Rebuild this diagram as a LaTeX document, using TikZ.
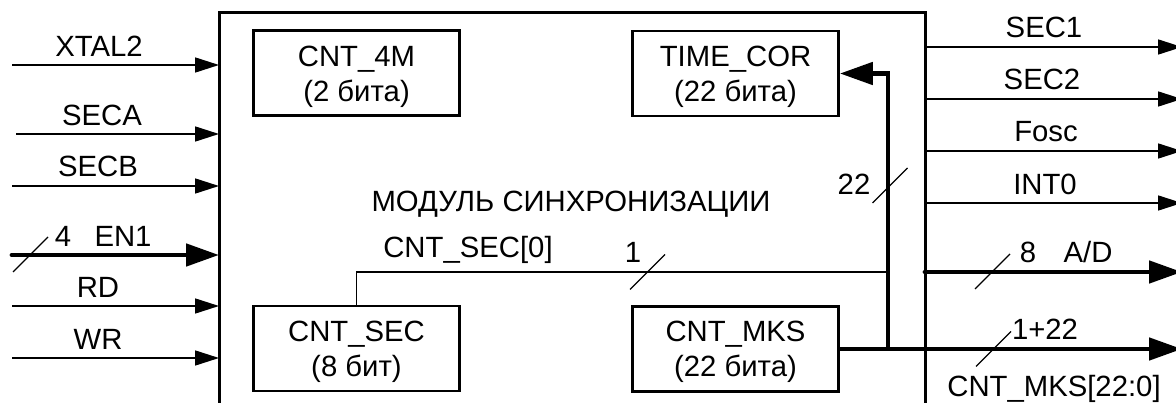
\documentclass[tikz,border=0pt]{standalone}
\usepackage{fontspec}
\setmainfont{Liberation Sans}
\usetikzlibrary{arrows.meta}

\begin{document}
\begin{tikzpicture}[x=1pt,y=-1pt,
  every node/.style={font=\fontsize{29.3}{35}\selectfont, inner sep=0pt},
  sig/.style={line width=1.6pt, -{Triangle[length=24pt,width=15pt]}},
  bus/.style={line width=4.8pt, -{Triangle[length=33pt,width=22pt]}},
  unit/.style={draw, line width=2.7pt, minimum width=206pt, minimum height=85pt,
    align=center, text depth=0pt},
  frame/.style={line width=3pt},
  wire/.style={line width=1.4pt},
  tick/.style={line width=1.1pt},
  lbl/.style={anchor=base},
]
\useasboundingbox (0,0) rectangle (1176,403);

% synchronisation module: open at the bottom
\node[minimum width=706pt, minimum height=400pt, outer sep=0pt, anchor=north west] (mod) at (219,13) {};
\draw[frame] (mod.south west) -- (mod.north west) -- (mod.north east) -- (mod.south east);

% internal units
\node[unit] (c4m) at (356.5,73.3) {CNT\_4M\\(2 бита)};
\node[unit] (tc)  at (735.5,73.5) {TIME\_COR\\(22 бита)};
\node[unit] (sec) at (356.5,348.5) {CNT\_SEC\\(8 бит)};
\node[unit] (mks) at (735.5,349) {CNT\_MKS\\(22 бита)};

\node[lbl] (title) at (571,212) {МОДУЛЬ СИНХРОНИЗАЦИИ};

% inputs
\coordinate (iXT) at (12,65);
\coordinate (iSA) at (16,134);
\coordinate (iSB) at (12,186);
\coordinate (iEN) at (12,255);
\coordinate (iRD) at (12,306);
\coordinate (iWR) at (12,358);
\draw[sig] (iXT) -- (iXT -| mod.west);
\draw[sig] (iSA) -- (iSA -| mod.west);
\draw[sig] (iSB) -- (iSB -| mod.west);
\draw[bus, line cap=round] (iEN) -- (iEN -| mod.west);
\draw[sig] (iRD) -- (iRD -| mod.west);
\draw[sig] (iWR) -- (iWR -| mod.west);
\draw[tick] (30.5,254.5) ++(-17.5,17.5) -- ++(35,-35);

\node[lbl] (lXT) at (99,57)  {XTAL2};
\node[lbl] (lSA) at (102,126) {SECA};
\node[lbl] (lSB) at (98,177) {SECB};
\node[lbl] (l4)  at (63,247) {4};
\node[lbl] (lEN) at (123,247) {EN1};
\node[lbl] (lRD) at (98,298) {RD};
\node[lbl] (lWR) at (98,350) {WR};

% outputs
\coordinate (oS1) at (1182,47);
\coordinate (oS2) at (1182,99);
\coordinate (oF)  at (1182,151);
\coordinate (oI)  at (1182,203);
\coordinate (oAD) at (1182,272);
\coordinate (oB)  at (1182,349);
\draw[sig] (oS1 -| mod.east) -- (oS1);
\draw[sig] (oS2 -| mod.east) -- (oS2);
\draw[sig] (oF -| mod.east) -- (oF);
\draw[sig] (oI -| mod.east) -- (oI);
\draw[bus, line cap=round] (oAD -| mod.east) -- (oAD);
\draw[tick] (992.5,271.5) ++(-17.5,17.5) -- ++(35,-35);

\node[lbl] (lS1) at (1044,38) {SEC1};
\node[lbl] (lS2) at (1042,90) {SEC2};
\node[lbl] (lF)  at (1046,142) {Fosc};
\node[lbl] (lI)  at (1045,195) {INT0};
\node[lbl] (l8)  at (1028,263) {8};
\node[lbl] (lAD) at (1088,263) {A/D};

% CNT_MKS bus: out of the module and back to TIME_COR
\coordinate (j) at (888,349);
\draw[bus] (mks.east) -- (oB);
\draw[bus] (j) |- (tc.east);
\draw[tick] (993.5,349) ++(-17.5,17.5) -- ++(35,-35);
\draw[tick] (890,185.5) ++(-17.5,17.5) -- ++(35,-35);
\node[lbl] (l122) at (1045,340) {1+22};
\node[lbl] (lCM)  at (1054,397) {CNT\_MKS[22:0]};
\node[lbl] (l22)  at (854,195) {22};

% CNT_SEC[0] line
\coordinate (c0) at (888,272);
\draw[wire] (sec.north) |- (c0);
\draw[tick] (647.5,272) ++(-17.5,17.5) -- ++(35,-35);
\node[lbl] (l1)  at (633,263) {1};
\node[lbl] (lCS) at (468,258) {CNT\_SEC[0]};
\end{tikzpicture}
\end{document}
